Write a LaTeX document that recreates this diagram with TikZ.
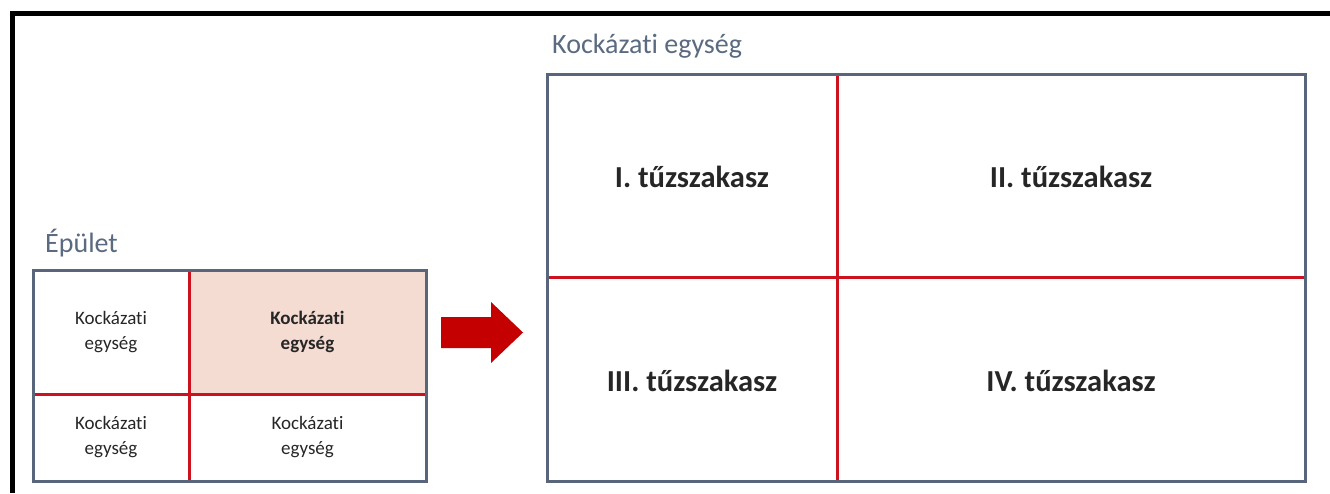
\documentclass[tikz,border=0pt]{standalone}
\usepackage{fontspec}
\setmainfont[Ligatures={NoCommon}]{Carlito}
\definecolor{frameblue}{RGB}{88,101,122}
\definecolor{divred}{RGB}{204,18,30}
\definecolor{arrowred}{RGB}{196,0,0}
\definecolor{cellpink}{RGB}{245,220,210}
\definecolor{titlegray}{RGB}{90,106,128}
\definecolor{textdark}{RGB}{38,38,38}
\tikzset{
  cell/.style={inner sep=0pt, outer sep=0pt, anchor=north west, align=center,
    text=textdark, font=\fontsize{19}{25}\selectfont},
  bigcell/.style={inner sep=0pt, outer sep=0pt, anchor=north west, align=center,
    text=textdark, font=\fontsize{30.5}{34}\selectfont\bfseries},
  title/.style={inner sep=0pt, anchor=base west, text=titlegray,
    font=\fontsize{28}{32}\selectfont},
  frame/.style={draw=frameblue, line width=3pt},
  divider/.style={draw=divred, line width=3pt},
}
\begin{document}
\begin{tikzpicture}[x=1pt,y=-1pt]
\useasboundingbox (0,0) rectangle (1330,493);
% outer black border (open at right and bottom)
\draw[line width=5pt, line cap=butt] (12,493) -- (12,13.5) -- (1330,13.5);

% building grid
\node[title] (tb) at (45,252) {Épület};
\node[cell, minimum width=156pt, minimum height=124pt] (b11) at (33,270) {Kockázati\\egység};
\node[cell, fill=cellpink, minimum width=237pt, minimum height=124pt, font=\fontsize{19}{25}\selectfont\bfseries] (b12) at (189,270) {Kockázati\\egység};
\node[cell, minimum width=156pt, minimum height=87pt] (b21) at (33,394) {Kockázati\\egység};
\node[cell, minimum width=237pt, minimum height=87pt] (b22) at (189,394) {Kockázati\\egység};
\draw[divider] (b11.north east) -- (b21.south east);
\draw[divider] (b11.south west) -- (b12.south east);
\draw[frame] (b11.north west) rectangle (b22.south east);

% arrow
\fill[arrowred] (441,317) -- (491,317) -- (491,302) -- (523,332.5) -- (491,363) -- (491,348) -- (441,348) -- cycle;

% risk unit grid
\node[title] (tk) at (552,53) {Kockázati egység};
\node[bigcell, minimum width=290pt, minimum height=206pt] (k11) at (547,74) {I. tűzszakasz};
\node[bigcell, minimum width=468pt, minimum height=206pt] (k12) at (837,74) {II. tűzszakasz};
\node[bigcell, minimum width=290pt, minimum height=201pt] (k21) at (547,280) {III. tűzszakasz};
\node[bigcell, minimum width=468pt, minimum height=201pt] (k22) at (837,280) {IV. tűzszakasz};
\draw[divider] (k11.north east) -- (k21.south east);
\draw[divider] (547,277) -- (1305,277);
\draw[frame] (k11.north west) rectangle (k22.south east);
\end{tikzpicture}
\end{document}
